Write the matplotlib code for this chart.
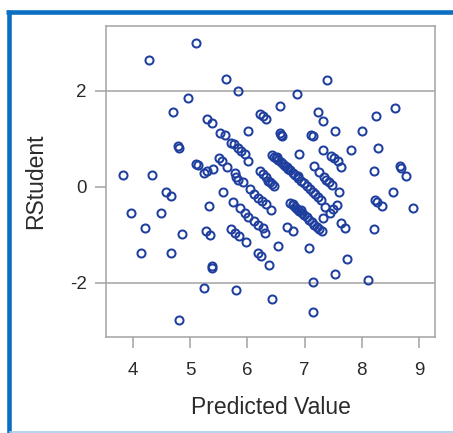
import matplotlib
matplotlib.use('Agg')
import matplotlib.pyplot as plt
from matplotlib.lines import Line2D

plt.rcParams['font.family'] = ['Liberation Sans', 'DejaVu Sans']

# predicted value / rstudent pairs
pred = [3.82, 3.97, 4.15, 4.22, 4.29, 4.34, 4.49, 4.58, 4.66, 4.66,
        4.70, 4.78, 4.80, 4.81, 4.85, 4.96, 5.10, 5.10, 5.13, 5.25,
        5.29, 5.40, 5.25, 5.27, 5.35, 5.33, 5.39, 5.39, 5.29, 5.39,
        5.50, 5.55, 5.65, 5.53, 5.61, 5.58, 5.62, 5.83, 5.80, 5.72,
        5.77, 5.83, 5.89, 5.96, 6.02, 6.02, 5.78, 5.81, 5.84, 5.93,
        6.05, 5.75, 5.87, 5.96, 6.02, 6.11, 6.19, 6.27, 6.31, 5.72,
        5.78, 5.86, 5.98, 6.19, 6.24, 6.38, 6.43, 6.11, 6.19, 6.26,
        6.33, 6.42, 6.22, 6.27, 6.32, 6.36, 6.40, 6.43, 6.46, 6.23,
        6.27, 6.33, 6.57, 6.57, 6.59, 6.61, 6.86, 6.91, 6.53,
        # upper diagonal band
        6.43, 6.47, 6.50, 6.52, 6.54, 6.58, 6.62, 6.66, 6.70, 6.71,
        6.75, 6.80, 6.84, 6.88, 6.89, 6.94, 6.99, 7.04, 7.09, 7.14,
        7.19, 7.24, 7.28,
        # lower diagonal band
        6.75, 6.79, 6.80, 6.83, 6.87, 6.91, 6.93, 6.95, 6.99, 7.04,
        7.08, 7.13, 7.17, 7.22, 7.26, 7.30,
        6.70, 6.79, 7.07, 7.14, 7.15, 7.12, 7.14, 7.23, 7.33, 7.39,
        7.53, 7.33, 7.46, 7.52, 7.58, 7.63, 7.16, 7.26, 7.34, 7.38,
        7.43, 7.48, 7.61, 7.35, 7.56, 7.50, 7.45, 7.32, 7.64, 7.71,
        7.75, 7.53, 7.81, 8.00, 8.11, 8.25, 8.28, 8.22, 8.24, 8.27,
        8.36, 8.22, 8.55, 8.58, 8.66, 8.69, 8.77, 8.89]

rstudent = [0.24, -0.55, -1.38, -0.85, 2.65, 0.24, -0.55, -0.11, -0.19, -1.38,
            1.55, 0.85, 0.81, -2.78, -0.99, 1.86, 3.00, 0.47, 0.45, 0.29,
            0.32, 0.38, -2.11, -0.93, -1.01, -0.41, -1.65, -1.69, 1.42, 1.33,
            0.60, 0.53, 0.42, 1.12, 1.07, -0.11, 2.25, 1.99, -2.16, 0.92,
            0.89, 0.81, 0.75, 0.69, 0.54, 1.16, 0.28, 0.21, 0.15, 0.11,
            -0.04, -0.31, -0.44, -0.55, -0.62, -0.72, -0.79, -0.86, -0.96, -0.88,
            -0.96, -1.03, -1.15, -1.39, -1.45, -1.64, -2.33, -0.16, -0.23, -0.30,
            -0.36, -0.49, 0.32, 0.26, 0.20, 0.13, 0.09, 0.05, 0.02, 1.51,
            1.47, 1.42, 1.69, 1.13, 1.08, 1.05, 1.94, 0.69, -1.24,
            0.67, 0.63, 0.60, 0.62, 0.56, 0.52, 0.47, 0.43, 0.42, 0.38,
            0.34, 0.29, 0.24, 0.22, 0.18, 0.13, 0.07, 0.02, -0.04, -0.10,
            -0.16, -0.22, -0.27,
            -0.34, -0.38, -0.36, -0.42, -0.46, -0.50, -0.49, -0.55, -0.59, -0.64,
            -0.69, -0.74, -0.79, -0.84, -0.89, -0.93,
            -0.84, -0.92, -1.28, -1.99, -2.60, 1.08, 1.05, 1.55, 1.38, 2.22,
            1.16, 0.77, 0.65, 0.61, 0.54, 0.41, 0.43, 0.30, 0.21, 0.15,
            0.11, 0.03, -0.11, -0.42, -0.37, -0.47, -0.55, -0.66, -0.75, -0.85,
            -1.50, -1.81, 0.76, 1.16, -1.94, 1.48, 0.80, 0.33, -0.28, -0.32,
            -0.41, -0.89, -0.11, 1.65, 0.44, 0.39, 0.23, -0.45]

xticks = [4, 5, 6, 7, 8, 9]
yticks = [-2, 0, 2]

W, H = 453, 433
fig = plt.figure(figsize=(W / 100, H / 100), dpi=100)
ax = fig.add_axes([106 / W, 1 - 337 / H, 329 / W, 311 / H])

gray = '#a3a3a3'
ax.axhline(2, color=gray, lw=1.1, zorder=1)
ax.axhline(-2, color=gray, lw=1.1, zorder=1)

ax.plot(pred, rstudent, 'o', ms=5.8, mfc='none', mec='#1f3f9f', mew=1.45,
        zorder=3, clip_on=False)

ax.set_xlim(3.53, 9.28)
ax.set_ylim(-3.13, 3.35)
ax.set_xticks(xticks)
ax.set_yticks(yticks)
ax.set_xticklabels([str(t) for t in xticks])
ax.set_yticklabels([str(t) for t in yticks])

for s in ax.spines.values():
    s.set_color(gray)
    s.set_linewidth(1.1)

ax.tick_params(axis='both', colors=gray, length=8, width=1.1,
               labelsize=13.5, labelcolor='#2b2b2b')
ax.tick_params(axis='x', pad=10)
ax.tick_params(axis='y', pad=6)

ax.set_xlabel('Predicted Value', fontsize=16.5, color='#2b2b2b', va='center')
ax.xaxis.set_label_coords(0.5, -0.228)
ax.set_ylabel('RStudent', fontsize=16.5, color='#2b2b2b', va='center')
ax.yaxis.set_label_coords(-0.215, 0.5)

# blue border of the output window (left and top), faint line at the bottom
blue = '#0a6fc2'
fig.add_artist(Line2D([8.5 / W, 8.5 / W], [0, 1 - 10 / H], color=blue, lw=3.3,
                      transform=fig.transFigure, solid_capstyle='butt'))
fig.add_artist(Line2D([6.2 / W, 1], [1 - 12 / H, 1 - 12 / H], color=blue, lw=3.3,
                      transform=fig.transFigure, solid_capstyle='butt'))
fig.add_artist(Line2D([10 / W, 1], [1.5 / H, 1.5 / H], color='#a9cdec', lw=1.2,
                      transform=fig.transFigure))

fig.savefig('out.png', dpi=100)
